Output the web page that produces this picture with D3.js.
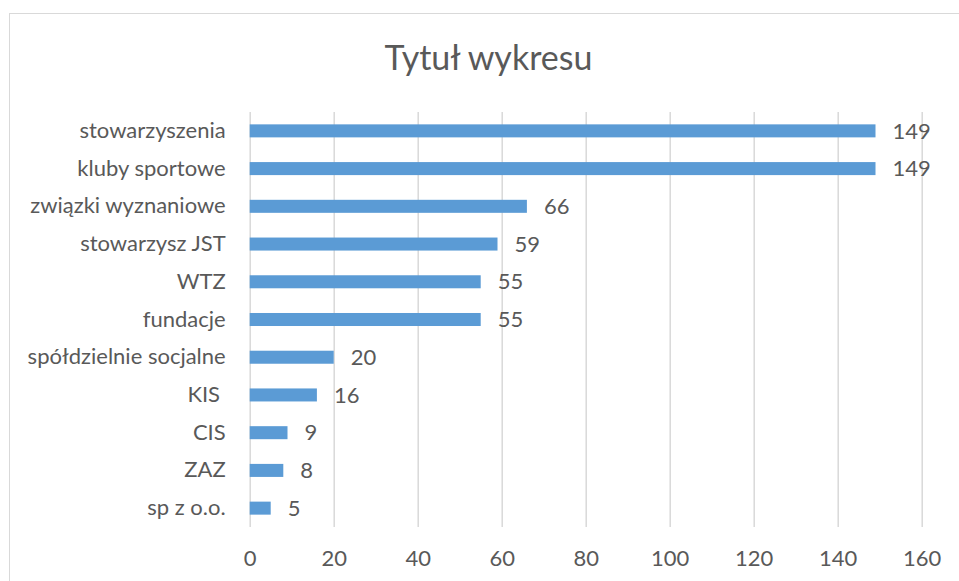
<!DOCTYPE html>
<html><head><meta charset="utf-8">
<script src="https://cdn.jsdelivr.net/npm/d3@7"></script>
<style>
html,body{margin:0;padding:0;background:#fff;}
svg text{font-family:Lato,"Open Sans",sans-serif;fill:#595959;white-space:pre;}
</style></head>
<body>
<svg id="chart" width="959" height="581"></svg>
<script>
const title = "Tytuł wykresu";
const categories = ["stowarzyszenia","kluby sportowe","związki wyznaniowe","stowarzysz JST","WTZ","fundacje","spółdzielnie socjalne","KIS ","CIS","ZAZ","sp z o.o."];
const values = [149,149,66,59,55,55,20,16,9,8,5];
const xTicks = [0,20,40,60,80,100,120,140,160];

(function(){
const svg = d3.select("#chart");
svg.append("rect").attr("x",9.5).attr("y",13.5).attr("width",970).attr("height",600)
  .attr("fill","#fff").attr("stroke","#D9D9D9").attr("stroke-width",1);

const pLeft = 249.7, pRight = 921.7, pTop = 112, pBottom = 527;
const x = d3.scaleLinear().domain([0,160]).range([pLeft,pRight]);
const y = d3.scaleBand().domain(categories).range([pTop,pBottom]).paddingInner(0.655).paddingOuter(0.3275);

const gx = svg.append("g").attr("transform",`translate(0,${pBottom})`)
  .call(d3.axisBottom(x).tickValues(xTicks).tickSize(-(pBottom-pTop)).tickSizeOuter(0).tickPadding(23));
gx.select(".domain").remove();
gx.selectAll(".tick line").attr("stroke","#D9D9D9").attr("stroke-width",1.5);
gx.selectAll(".tick text").attr("font-size",22).attr("fill","#595959").attr("dy","0.71em")
  .style("font-family","Lato, 'Open Sans', sans-serif");

svg.append("g").selectAll("rect").data(categories).join("rect")
  .attr("x",x(0)).attr("y",d=>y(d))
  .attr("width",(d,i)=>x(values[i])-x(0)).attr("height",y.bandwidth())
  .attr("fill","#5B9BD5");

svg.append("g").selectAll("text").data(categories).join("text")
  .attr("x",(d,i)=>x(values[i])+17).attr("y",d=>y(d)+y.bandwidth()/2)
  .attr("dy","0.35em").attr("font-size",22).text((d,i)=>values[i]);

const gy = svg.append("g").attr("transform",`translate(${pLeft},0)`)
  .call(d3.axisLeft(y).tickSize(0).tickPadding(24));
gy.select(".domain").remove();
gy.selectAll(".tick text").attr("font-size",22).attr("fill","#595959")
  .style("font-family","Lato, 'Open Sans', sans-serif");

svg.append("text").attr("x",488.5).attr("y",69.5).attr("text-anchor","middle")
  .attr("font-size",34).text(title);
})();
</script>
</body></html>
